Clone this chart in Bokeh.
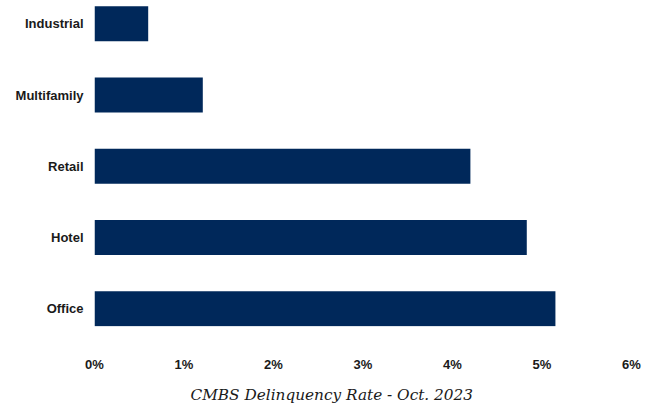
from bokeh.plotting import figure
from bokeh.models import ColumnDataSource, Title, FixedTicker, Range1d
from bokeh.embed import file_html
from bokeh.resources import INLINE

categories = ["Office", "Hotel", "Retail", "Multifamily", "Industrial"]
rates = [5.15, 4.83, 4.20, 1.21, 0.60]
x_ticks = [0, 1, 2, 3, 4, 5, 6]
x_tick_labels = ["0%", "1%", "2%", "3%", "4%", "5%", "6%"]
title_text = "CMBS Delinquency Rate - Oct. 2023"

positions = list(range(len(categories)))
src = ColumnDataSource(dict(y=positions, right=rates, cat=categories))

p = figure(width=654, height=412, output_backend="svg", toolbar_location=None,
           x_range=Range1d(0, 6), y_range=Range1d(-0.248, 4.327),
           min_border_left=94, min_border_right=23, min_border_top=0,
           min_border_bottom=86)

p.hbar(y="y", left=0, right="right", height=0.49, source=src,
       fill_color="#00285a", line_color=None)

p.xgrid.visible = False
p.ygrid.visible = False
p.outline_line_color = None

for ax in (p.xaxis[0], p.yaxis[0]):
    ax.axis_line_color = None
    ax.major_tick_line_color = None
    ax.minor_tick_line_color = None
    ax.major_tick_out = 0
    ax.major_tick_in = 0
    ax.major_label_text_font = "Liberation Sans"
    ax.major_label_text_font_style = "bold"
    ax.major_label_text_color = "#1a1a1a"
    ax.major_label_text_font_size = "13px"

p.xaxis.ticker = FixedTicker(ticks=x_ticks)
p.xaxis.major_label_overrides = {t: l for t, l in zip(x_ticks, x_tick_labels)}
p.xaxis.major_label_standoff = 30

p.yaxis.ticker = FixedTicker(ticks=positions)
p.yaxis.major_label_overrides = {i: c for i, c in zip(positions, categories)}
p.yaxis.major_label_standoff = 11

t = Title(text=title_text, align="left", text_font="DejaVu Serif",
          text_font_style="italic", text_font_size="15.3px",
          text_color="#1a1a1a", offset=96, standoff=18)
p.add_layout(t, "below")

open("out.html", "w").write(file_html(p, INLINE))
